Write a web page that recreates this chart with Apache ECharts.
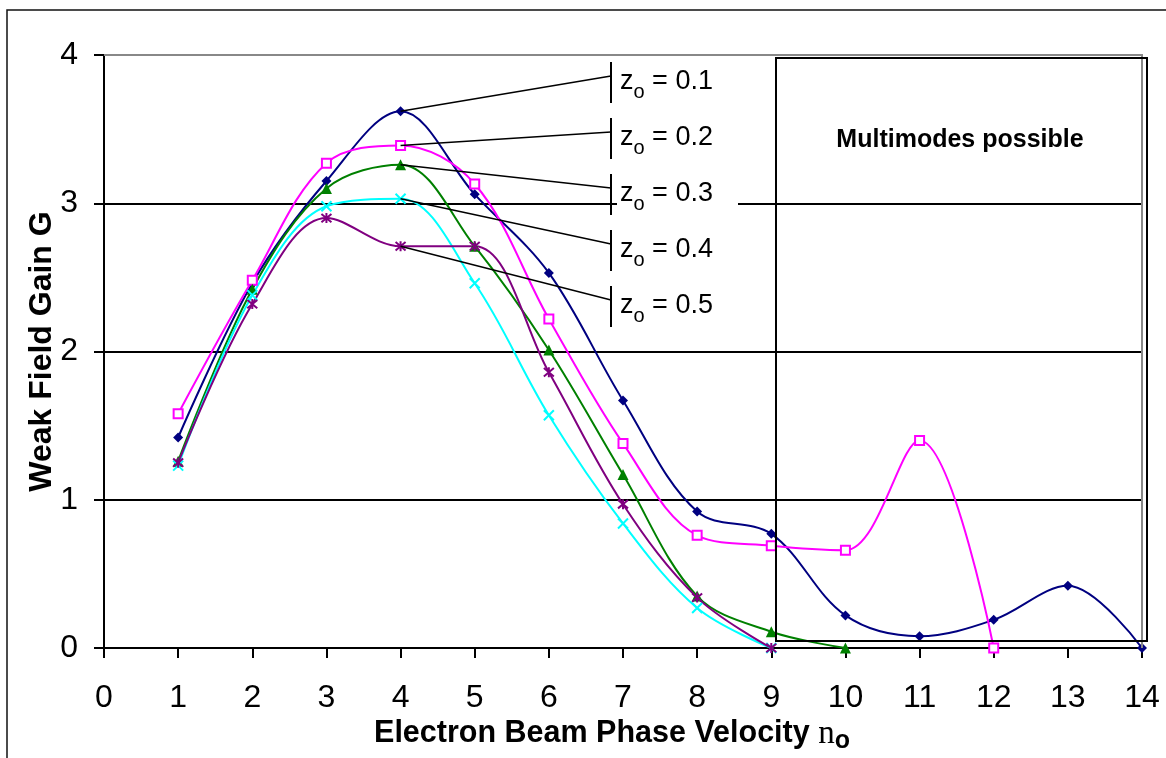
<!DOCTYPE html>
<html>
<head>
<meta charset="utf-8">
<title>Weak Field Gain</title>
<script src="https://cdn.jsdelivr.net/npm/echarts@6/dist/echarts.min.js"></script>
<style>
    html, body { margin: 0; padding: 0; background: #fff; }
    #chart { width: 1166px; height: 758px; }
</style>
</head>
<body>
<div id="chart"></div>
<script>
// values
const nValues = [1, 2, 3, 4, 5, 6, 7, 8, 9, 10, 11, 12, 13, 14];
const gainZ01 = [1.42, 2.46, 3.15, 3.62, 3.06, 2.53, 1.67, 0.92, 0.77, 0.22, 0.08, 0.19, 0.42, 0.00];
const gainZ02 = [1.58, 2.48, 3.27, 3.39, 3.13, 2.22, 1.38, 0.76, 0.69, 0.66, 1.40, 0.00];
const gainZ03 = [1.26, 2.42, 3.10, 3.26, 2.71, 2.01, 1.17, 0.35, 0.11, 0.00];
const gainZ04 = [1.23, 2.38, 2.98, 3.03, 2.46, 1.57, 0.84, 0.27, 0.00];
const gainZ05 = [1.25, 2.32, 2.90, 2.71, 2.71, 1.86, 0.97, 0.34, 0.00];
const zLabels = ['0.1', '0.2', '0.3', '0.4', '0.5'];
const xTicks = [0, 14, 1];   // min, max, interval
const yTicks = [0, 4, 1];

const FONT = 'Liberation Sans, Arial, sans-serif';
const chart = echarts.init(document.getElementById('chart'));

function toPoints(values) {
    return values.map((v, i) => [nValues[i], v]);
}

function makeSeries(name, values, color, symbol, size, itemStyle) {
    return {
        name: name,
        type: 'line',
        data: toPoints(values),
        smooth: 0.35,
        symbol: symbol,
        symbolSize: size,
        showAllSymbol: true,
        color: color,
        lineStyle: { color: color, width: 2 },
        itemStyle: itemStyle,
        emphasis: { disabled: true },
        animation: false,
        z: 3
    };
}

const series = [
    makeSeries('z0.1', gainZ01, '#000080', 'diamond', 10, { color: '#000080' }),
    makeSeries('z0.2', gainZ02, '#FF00FF', 'rect', 9, { color: '#ffffff', borderColor: '#FF00FF', borderWidth: 2 }),
    makeSeries('z0.3', gainZ03, '#008000', 'triangle', 11, { color: '#008000' }),
    makeSeries('z0.4', gainZ04, '#00FFFF', 'path://M0,0L10,10M10,0L0,10', 10,
        { color: 'none', borderColor: '#00FFFF', borderWidth: 2 }),
    makeSeries('z0.5', gainZ05, '#800080', 'path://M0,0L10,10M10,0L0,10M5,-1L5,11', 10,
        { color: 'none', borderColor: '#800080', borderWidth: 2 })
];

const option = {
    backgroundColor: '#fff',
    animation: false,
    grid: { left: 104, top: 55, right: 24, bottom: 110, containLabel: false, outerBoundsMode: 'none' },
    xAxis: {
        type: 'value',
        min: xTicks[0], max: xTicks[1], interval: xTicks[2],
        axisLine: { show: true, onZero: false, lineStyle: { color: '#000', width: 2 } },
        axisTick: { show: true, inside: false, length: 10, lineStyle: { color: '#000', width: 2 } },
        axisLabel: { color: '#000', fontSize: 32, fontFamily: FONT, margin: 34 },
        splitLine: { show: false },
        name: 'Electron Beam Phase Velocity {n|n}{o|o}',
        nameLocation: 'middle',
        nameGap: 66,
        nameMoveOverlap: false,
        nameTextStyle: {
            color: '#000', fontSize: 30.5, fontWeight: 'bold', fontFamily: FONT, lineHeight: 40,
            padding: [0, 22, 0, 0],
            rich: {
                n: { fontFamily: 'Liberation Serif, Times New Roman, serif', fontWeight: 'normal', fontSize: 33, lineHeight: 40, color: '#000' },
                o: { fontFamily: FONT, fontWeight: 'bold', fontSize: 25, lineHeight: 25, verticalAlign: 'bottom', color: '#000' }
            }
        }
    },
    yAxis: {
        type: 'value',
        min: yTicks[0], max: yTicks[1], interval: yTicks[2],
        axisLine: { show: true, lineStyle: { color: '#000', width: 2 } },
        axisTick: { show: true, inside: false, length: 10, lineStyle: { color: '#000', width: 2 } },
        axisLabel: { color: '#000', fontSize: 32, fontFamily: FONT, margin: 26 },
        splitLine: { show: true, lineStyle: { color: '#000', width: 2 } },
        name: 'Weak Field Gain G',
        nameLocation: 'middle',
        nameRotate: 90,
        nameGap: 46,
        nameMoveOverlap: false,
        nameTextStyle: { color: '#000', fontSize: 32, fontWeight: 'bold', fontFamily: FONT }
    },
    series: series
};

chart.setOption(option);

// annotations: plot border, multimode box, z_o labels with leader lines
const topLeft = chart.convertToPixel({ xAxisIndex: 0, yAxisIndex: 0 }, [xTicks[0], yTicks[1]]);
const topRight = chart.convertToPixel({ xAxisIndex: 0, yAxisIndex: 0 }, [xTicks[1], yTicks[1]]);
const bottomRight = chart.convertToPixel({ xAxisIndex: 0, yAxisIndex: 0 }, [xTicks[1], yTicks[0]]);

const graphics = [
    {
        type: 'rect', z: 1,
        shape: { x: 7, y: 10, width: 1200, height: 800 },
        style: { fill: 'none', stroke: '#111', lineWidth: 1.5 }
    },
    {
        type: 'polyline', z: 5,
        shape: { points: [topLeft, topRight, bottomRight] },
        style: { fill: 'none', stroke: '#888', lineWidth: 2 }
    },
    {
        type: 'rect', z: 20,
        shape: { x: 776, y: 58, width: 371, height: 583 },
        style: { fill: 'none', stroke: '#000', lineWidth: 2 }
    },
    {
        type: 'text', z: 20,
        style: {
            text: 'Multimodes possible', x: 960, y: 140,
            fill: '#000', font: 'bold 25px ' + FONT,
            textAlign: 'center', textVerticalAlign: 'middle'
        }
    }
];

const allSeries = [gainZ01, gainZ02, gainZ03, gainZ04, gainZ05];
const barX = 611;
zLabels.forEach((lbl, i) => {
    const rowY = 82 + i * 56;
    const start = chart.convertToPixel({ xAxisIndex: 0, yAxisIndex: 0 }, [nValues[3], allSeries[i][3]]);
    graphics.push({
        type: 'rect', z: 15,
        shape: { x: 617, y: rowY - 20, width: 121, height: 40 },
        style: { fill: '#fff' }
    });
    graphics.push({
        type: 'line', z: 16,
        shape: { x1: start[0], y1: start[1], x2: barX, y2: rowY - 6 },
        style: { stroke: '#000', lineWidth: 1.5 }
    });
    graphics.push({
        type: 'line', z: 16,
        shape: { x1: barX, y1: rowY - 20, x2: barX, y2: rowY + 21 },
        style: { stroke: '#000', lineWidth: 2 }
    });
    graphics.push({
        type: 'text', z: 16,
        style: {
            text: '{a|z}{b|o}{a| = ' + lbl + '}',
            x: 620, y: rowY,
            textVerticalAlign: 'middle',
            rich: {
                a: { fontFamily: FONT, fontSize: 27, lineHeight: 40, fill: '#000', color: '#000' },
                b: { fontFamily: FONT, fontSize: 20, lineHeight: 20, verticalAlign: 'bottom', fill: '#000', color: '#000' }
            }
        }
    });
});

chart.setOption({ graphic: graphics });
</script>
</body>
</html>
